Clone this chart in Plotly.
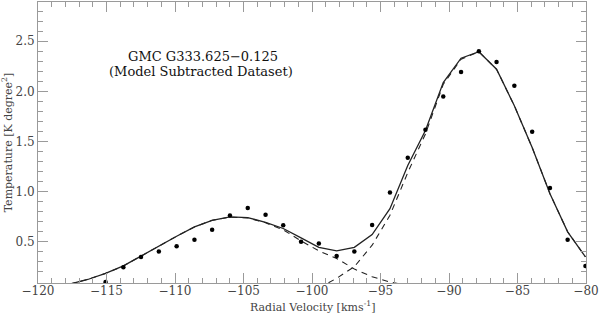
import plotly.graph_objects as go

# Observed data (radial velocity channels, temperature)
vel_obs = [-115.07, -113.77, -112.48, -111.18, -109.88, -108.58, -107.29, -105.99,
           -104.69, -103.39, -102.10, -100.80, -99.50, -98.20, -96.91, -95.61,
           -94.31, -93.01, -91.72, -90.42, -89.12, -87.82, -86.53, -85.23,
           -83.93, -82.63, -81.34, -80.04]
temp_obs = [0.10, 0.246, 0.348, 0.405, 0.457, 0.52, 0.62, 0.762,
            0.837, 0.77, 0.666, 0.50, 0.484, 0.358, 0.404, 0.669,
            0.993, 1.337, 1.618, 1.949, 2.193, 2.399, 2.293, 2.055,
            1.598, 1.036, 0.52, 0.259]

# Model curves
vel_fit = [-117.66, -116.37] + vel_obs
total_fit = [0.08, 0.125, 0.186, 0.26, 0.358, 0.46, 0.556, 0.649, 0.715, 0.748,
             0.742, 0.695, 0.633, 0.54, 0.445, 0.41, 0.445, 0.573,
             0.83, 1.26, 1.61, 2.087, 2.33, 2.395, 2.22, 1.856,
             1.44, 0.98, 0.6, 0.35]

vel_c1 = [-117.66, -116.37, -115.07, -113.77, -112.48, -111.18, -109.88, -108.58,
          -107.29, -105.99, -104.69, -103.39, -102.10, -100.80, -99.50, -98.20,
          -96.91, -95.61, -94.31, -93.01]
comp1 = [0.08, 0.125, 0.186, 0.26, 0.358, 0.46, 0.556, 0.649,
         0.715, 0.746, 0.738, 0.69, 0.62, 0.51, 0.41, 0.335,
         0.229, 0.153, 0.10, 0.065]

vel_c2 = [-99.50, -98.20, -96.91, -95.61, -94.31, -93.01, -91.72, -90.42,
          -89.12, -87.82, -86.53, -85.23, -83.93, -82.63, -81.34, -80.04]
comp2 = [0.04, 0.137, 0.252, 0.467, 0.765, 1.19, 1.575, 2.07,
         2.32, 2.395, 2.22, 1.856, 1.44, 0.98, 0.6, 0.35]

x_range = [-120, -80]
y_range = [0.09, 2.89]

x_title = "Radial Velocity [kms<sup>-1</sup>]"
y_title = "Temperature [K degree<sup>2</sup>]"
label_line1 = "GMC G333.625\u22120.125"
label_line2 = "(Model Subtracted Dataset)"

font_fam = "DejaVu Serif"
axis_col = "#9a9a9a"
text_col = "#444444"
line_col = "#222222"

fig = go.Figure()
fig.add_trace(go.Scatter(x=vel_c1, y=comp1, mode="lines",
                         line=dict(color=line_col, width=1.1, dash="6px,5px")))
fig.add_trace(go.Scatter(x=vel_c2, y=comp2, mode="lines",
                         line=dict(color=line_col, width=1.1, dash="6px,5px")))
fig.add_trace(go.Scatter(x=vel_fit, y=total_fit, mode="lines",
                         line=dict(color=line_col, width=1.3)))
fig.add_trace(go.Scatter(x=vel_obs, y=temp_obs, mode="markers",
                         marker=dict(color="black", size=4.5)))

fig.add_annotation(x=-107.95, y=2.35, xref="x", yref="y", text=label_line1,
                   showarrow=False, font=dict(family=font_fam, size=13, color="#111111"))
fig.add_annotation(x=-108.1, y=2.195, xref="x", yref="y", text=label_line2,
                   showarrow=False, font=dict(family=font_fam, size=13, color="#111111"))
# axis titles placed as annotations for precise positioning
fig.add_annotation(x=0.5, y=-0.083, xref="paper", yref="paper", text=x_title,
                   showarrow=False, xanchor="center", yanchor="middle",
                   font=dict(family=font_fam, size=11, color=text_col))
fig.add_annotation(x=-0.055, y=0.5, xref="paper", yref="paper", text=y_title,
                   showarrow=False, xanchor="center", yanchor="middle", textangle=-90,
                   font=dict(family=font_fam, size=11, color=text_col))

fig.update_xaxes(range=x_range, tickmode="linear", tick0=-120, dtick=5,
                 ticks="inside", ticklen=10, tickcolor=axis_col, tickwidth=1,
                 minor=dict(dtick=1, ticks="inside", ticklen=5, tickcolor=axis_col),
                 showline=True, linecolor=axis_col, linewidth=1, mirror="ticks",
                 showgrid=False, zeroline=False, ticklabelstandoff=-3,
                 ticklabeloverflow="allow",
                 tickfont=dict(family=font_fam, size=12, color=text_col))
fig.update_yaxes(range=y_range, tickmode="linear", tick0=0.5, dtick=0.5,
                 tickformat=".1f",
                 ticks="inside", ticklen=10, tickcolor=axis_col, tickwidth=1,
                 minor=dict(dtick=0.1, ticks="inside", ticklen=5, tickcolor=axis_col),
                 showline=True, linecolor=axis_col, linewidth=1, mirror="ticks",
                 showgrid=False, zeroline=False,
                 tickfont=dict(family=font_fam, size=12, color=text_col))

fig.update_layout(width=600, height=313, showlegend=False,
                  margin=dict(l=38, r=11, t=1, b=30),
                  paper_bgcolor="white", plot_bgcolor="white")

fig.write_html("out.html", config={"displayModeBar": False},
               post_script="document.body.style.margin='0';document.body.style.overflow='hidden';")
